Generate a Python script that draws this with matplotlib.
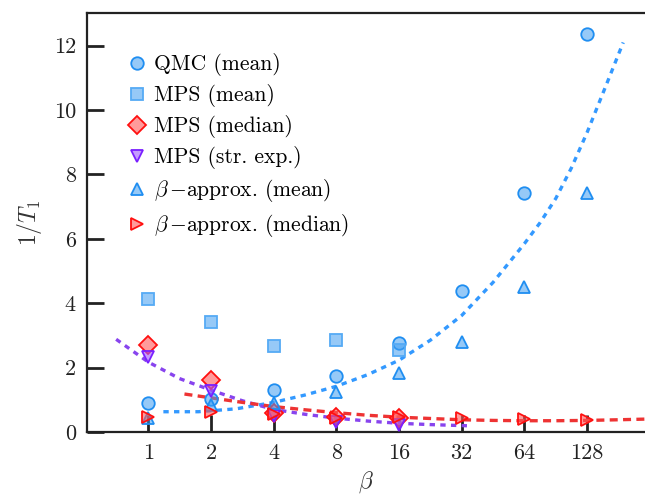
import numpy as np
import matplotlib
matplotlib.use("Agg")
import matplotlib.pyplot as plt

plt.rcParams['font.family'] = 'cmr10'
plt.rcParams['mathtext.fontset'] = 'cm'
plt.rcParams['axes.formatter.use_mathtext'] = True

# data
beta = [1, 2, 4, 8, 16, 32, 64, 128]
beta_mps = [1, 2, 4, 8, 16]
qmc_mean = [0.89, 1.04, 1.32, 1.75, 2.77, 4.38, 7.42, 12.36]
mps_mean = [4.12, 3.42, 2.67, 2.87, 2.56]
mps_median = [2.70, 1.61, 0.58, 0.48, 0.42]
mps_strexp = [2.34, 1.27, 0.50, 0.32, 0.22]
approx_mean = [0.42, 0.85, 0.89, 1.25, 1.82, 2.80, 4.51, 7.42]
approx_median = [0.48, 0.63, 0.55, 0.45, 0.47, 0.42, 0.39, 0.37]

# fitted curves
fit_blue_beta = [1.18, 1.74, 2.64, 4, 5.66, 8, 11.3, 16, 22.6, 32, 45.3, 64, 76.1, 90.5, 107.6, 128, 157.6, 191]
fit_blue = [0.63, 0.63, 0.72, 0.92, 1.15, 1.42, 1.78, 2.23, 2.85, 3.62, 4.65, 5.85, 6.5, 7.25, 8.2, 9.3, 10.75, 12.1]
fit_purple_beta = [0.70, 1, 1.41, 2, 2.83, 4, 5.66, 8, 11.3, 16, 22.6, 35.5]
fit_purple = [2.88, 2.17, 1.66, 1.30, 0.97, 0.70, 0.55, 0.43, 0.34, 0.27, 0.23, 0.19]
fit_red_beta = [1.49, 2, 2.83, 4, 5.66, 8, 11.3, 16, 22.6, 32, 45.3, 64, 90.5, 128, 181, 242]
fit_red = [1.18, 1.06, 0.92, 0.79, 0.69, 0.60, 0.52, 0.46, 0.42, 0.38, 0.36, 0.35, 0.35, 0.36, 0.38, 0.40]

blue_edge = '#1f8ef1'
blue_face = (0.25, 0.62, 0.95, 0.55)
red_edge = '#ff1010'
red_face = (1.0, 0.35, 0.35, 0.6)
purple_edge = '#7a1fff'
purple_face = (0.62, 0.35, 1.0, 0.6)

fig = plt.figure(figsize=(6.45, 4.98), dpi=100)
ax = fig.add_axes([87 / 645, 1 - 432 / 498, 1 - 87 / 645, (432 - 13.5) / 498])

ax.plot(fit_blue_beta, fit_blue, color='#3399ff', lw=2.4, dashes=(1.6, 1.6), zorder=2)
ax.plot(fit_purple_beta, fit_purple, color='#8844ee', lw=2.4, dashes=(1.6, 1.6), zorder=2)
ax.plot(fit_red_beta, fit_red, color='#ee3333', lw=2.4, dashes=(2.4, 1.6), zorder=2)

ms = 9
ax.plot(beta, qmc_mean, 'o', ms=ms, mfc=blue_face, mec=blue_edge, mew=1.3, label='QMC (mean)', zorder=3)
ax.plot(beta_mps, mps_mean, 's', ms=ms, mfc=blue_face, mec='#55aaf5', mew=1.3, label='MPS (mean)', zorder=3)
ax.plot(beta_mps, mps_median, 'D', ms=ms, mfc=red_face, mec=red_edge, mew=1.3, label='MPS (median)', zorder=3)
ax.plot(beta_mps, mps_strexp, 'v', ms=ms, mfc=purple_face, mec=purple_edge, mew=1.3, label='MPS (str. exp.)', zorder=3)
ax.plot(beta, approx_mean, '^', ms=ms, mfc=blue_face, mec=blue_edge, mew=1.3, label=r'$\beta\,{-}$approx. (mean)', zorder=3)
ax.plot(beta, approx_median, '>', ms=ms, mfc=red_face, mec=red_edge, mew=1.3, label=r'$\beta\,{-}$approx. (median)', zorder=3)

ax.set_xscale('log', base=2)
ax.set_xlim(2 ** -0.98, 2 ** 7.925)
ax.set_ylim(0, 13)
ax.set_xticks(beta)
ax.set_xticklabels([str(b) for b in beta])
ax.set_yticks([0, 2, 4, 6, 8, 10, 12])
ax.set_yticklabels(['0', '2', '4', '6', '8', '10', '12'])
ax.minorticks_off()

for s in ['left', 'top', 'bottom']:
    ax.spines[s].set_linewidth(1.6)
    ax.spines[s].set_color('#222222')
ax.spines['right'].set_visible(False)
ax.tick_params(direction='in', length=12, width=2, color='#222222',
               labelsize=16, labelcolor='#222222', pad=8)

ax.set_xlabel(r'$\beta$', fontsize=17, color='#333333', labelpad=5)
ax.set_ylabel(r'$1/T_1$', fontsize=17, color='#333333', labelpad=7)

ax.legend(loc='upper left', bbox_to_anchor=(0.055, 0.925), frameon=False,
          fontsize=15.5, handlelength=1.0, handletextpad=0.3, labelspacing=0.37,
          borderaxespad=0, numpoints=1)

fig.savefig('out.png', dpi=100)
